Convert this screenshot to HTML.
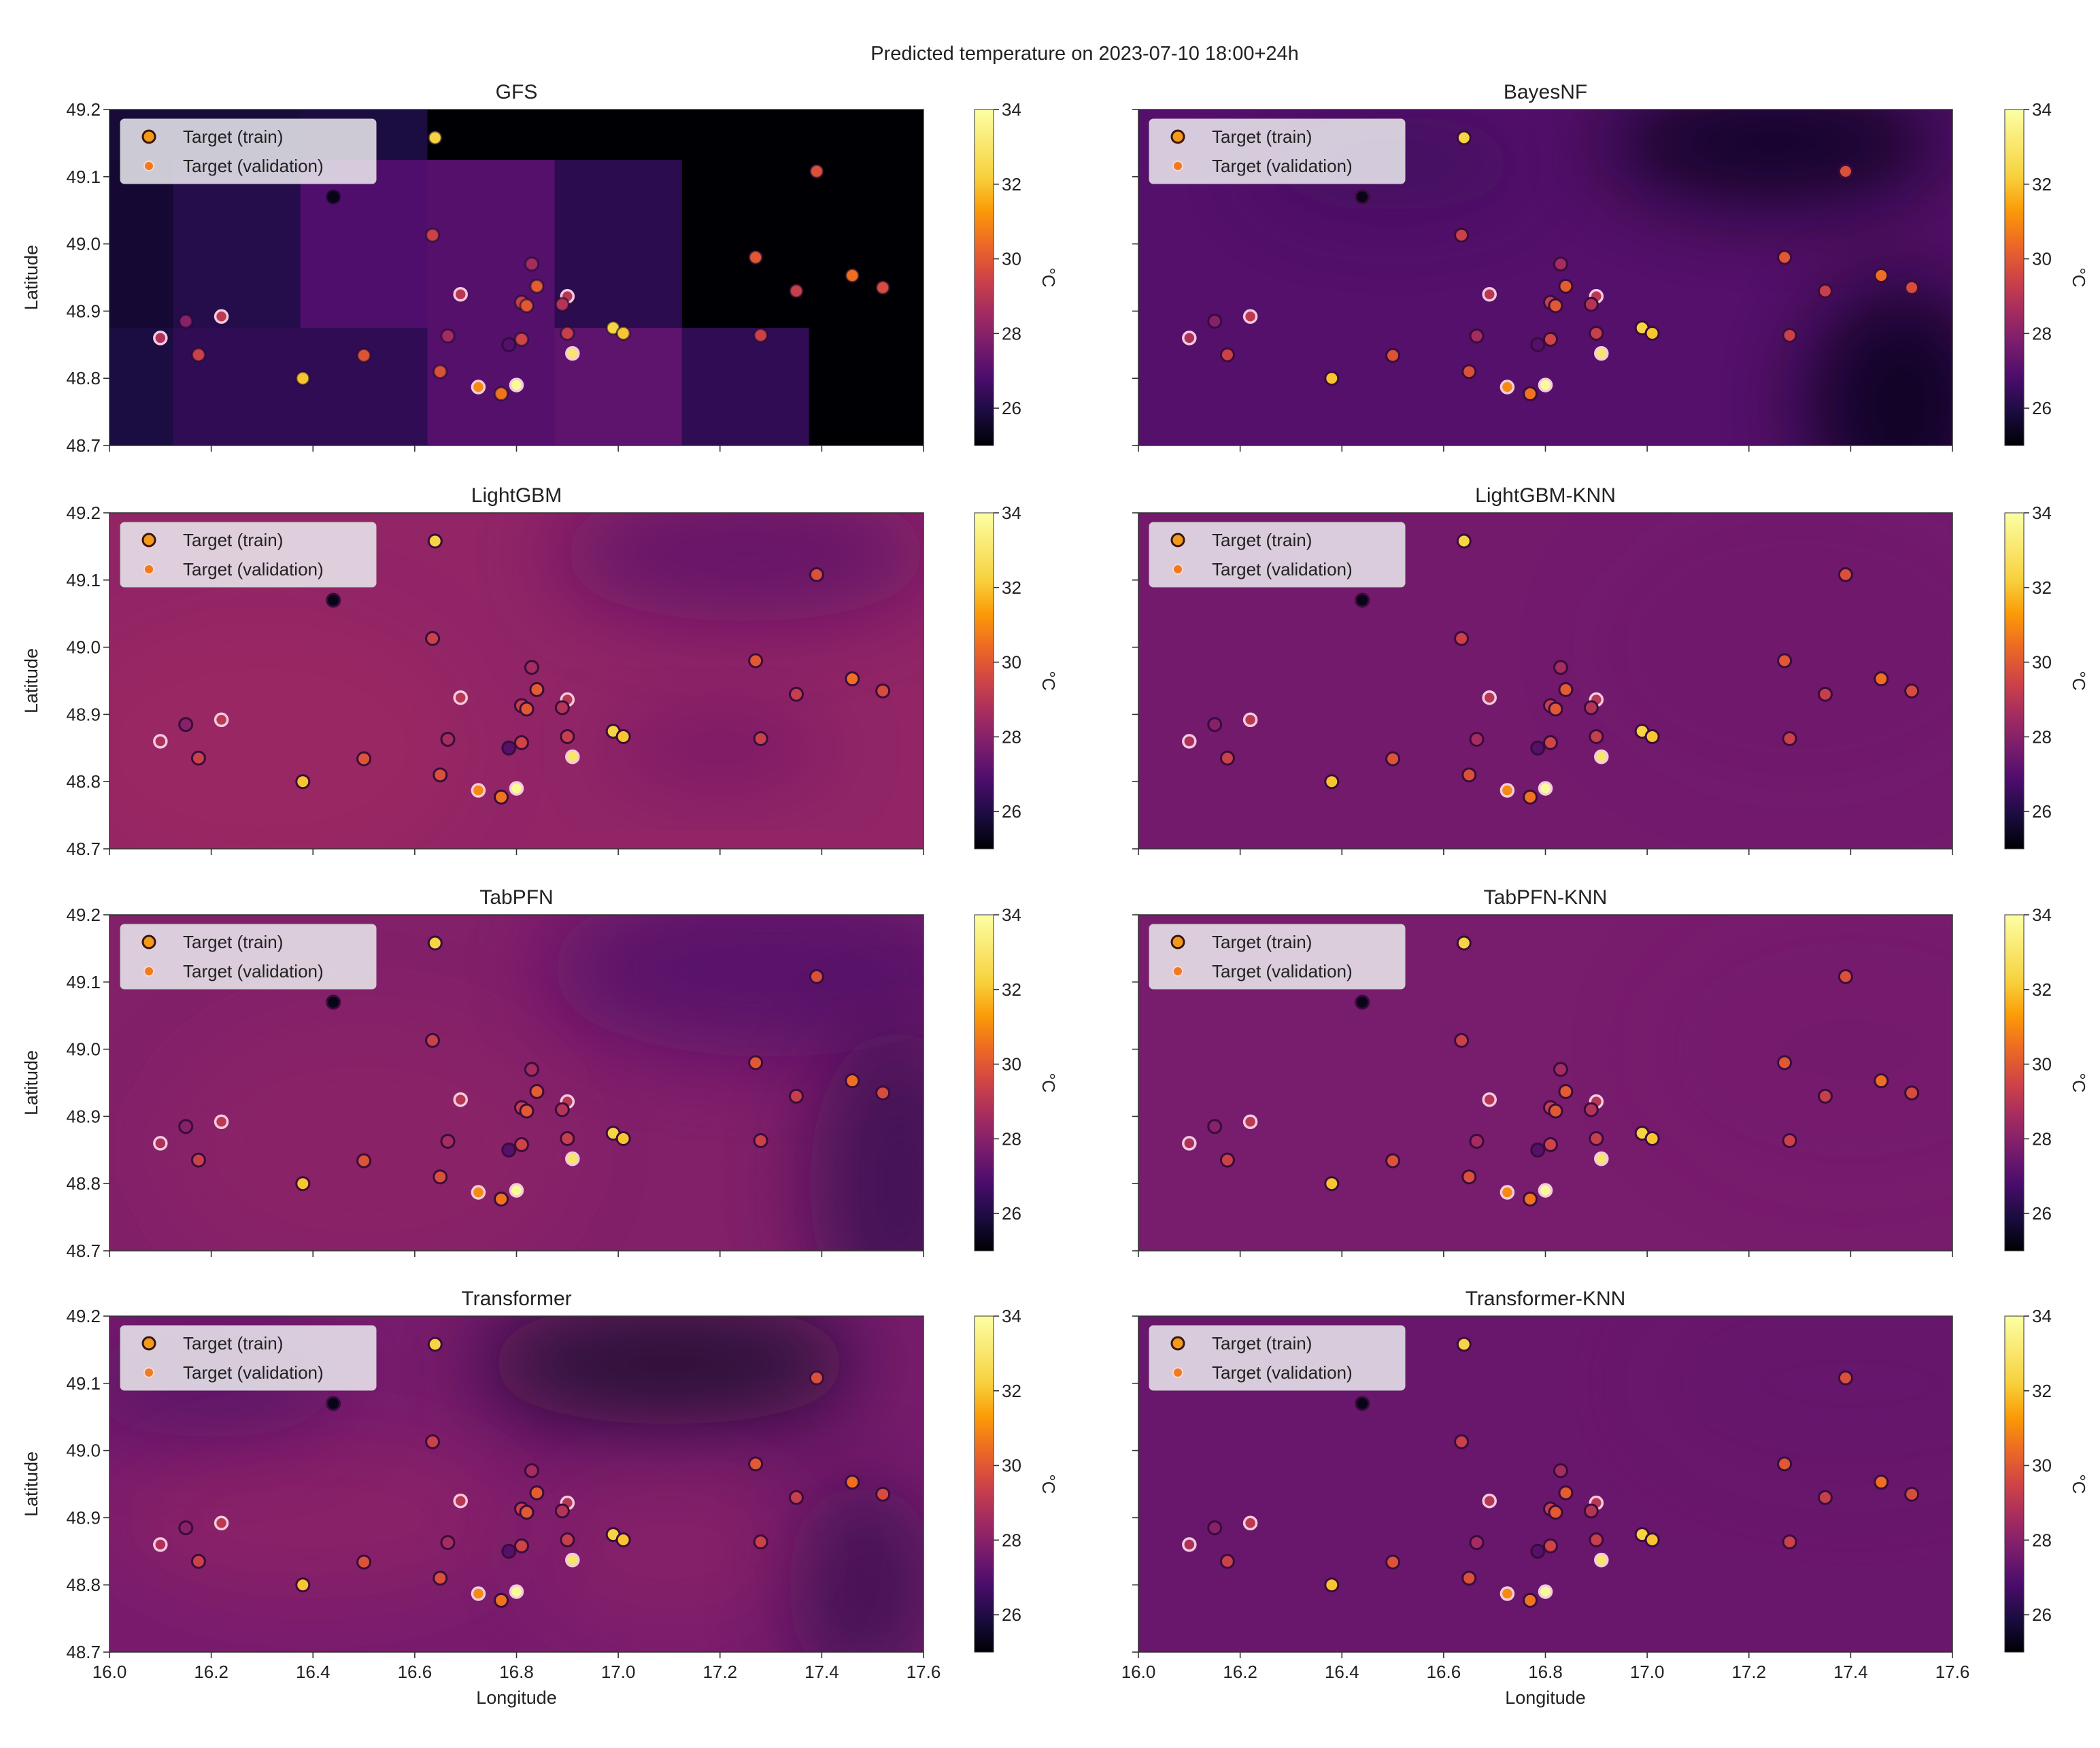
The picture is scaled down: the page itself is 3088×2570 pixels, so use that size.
<!DOCTYPE html>
<html><head><meta charset="utf-8"><style>
html,body{margin:0;padding:0;background:#fff}
svg{display:block;font-family:"Liberation Sans","DejaVu Sans",sans-serif}
</style></head><body>
<svg id="fig" width="3088" height="2570" viewBox="0 0 3088 2570" xmlns="http://www.w3.org/2000/svg">
<defs>
<linearGradient id="cbar" x1="0" y1="1" x2="0" y2="0">
<stop offset="0" stop-color="#000004"/><stop offset="0.1" stop-color="#1b0c41"/><stop offset="0.2" stop-color="#4a0c6b"/><stop offset="0.3" stop-color="#781c6d"/><stop offset="0.4" stop-color="#a52c60"/><stop offset="0.5" stop-color="#cf4446"/><stop offset="0.6" stop-color="#ed6925"/><stop offset="0.7" stop-color="#fb9b06"/><stop offset="0.8" stop-color="#f7d13d"/><stop offset="1" stop-color="#fcffa4"/>
</linearGradient>
<filter id="blur" x="-100%" y="-100%" width="300%" height="300%"><feGaussianBlur stdDeviation="60"/></filter>
</defs>
<text x="1595" y="88" font-size="29" text-anchor="middle" fill="#222">Predicted temperature on 2023-07-10 18:00+24h</text>
<g id="panels"></g>
</svg>
<script>
// ---- data ----
const panelTitles = ["GFS","BayesNF","LightGBM","LightGBM-KNN","TabPFN","TabPFN-KNN","Transformer","Transformer-KNN"];
const stationLon = [16.64,16.44,17.39,16.635,17.27,16.83,17.46,16.84,17.35,17.52,16.69,16.90,16.81,16.82,16.89,16.15,16.22,16.10,16.175,16.665,16.785,16.81,16.90,16.99,17.01,17.28,16.91,16.50,16.38,16.65,16.725,16.77,16.80];
const stationLat = [49.158,49.07,49.108,49.013,48.98,48.97,48.953,48.937,48.93,48.935,48.925,48.922,48.913,48.908,48.91,48.885,48.892,48.86,48.835,48.863,48.85,48.858,48.867,48.875,48.867,48.864,48.837,48.834,48.80,48.81,48.787,48.777,48.79];
const stationTemp = [32.3,25.3,29.8,29.4,30.0,28.6,30.5,30.1,29.3,29.7,29.0,29.0,29.3,30.0,28.9,28.0,29.1,28.8,29.4,28.6,27.0,29.5,29.3,32.3,32.0,29.4,33.0,29.9,32.0,29.8,31.0,30.6,33.8];
const stationValid = [0,0,0,0,0,0,0,0,0,0,1,1,0,0,0,0,1,1,0,0,0,0,0,0,0,0,1,0,0,0,1,0,1];
const xTicks = [16.0,16.2,16.4,16.6,16.8,17.0,17.2,17.4,17.6];
const yTicks = [48.7,48.8,48.9,49.0,49.1,49.2];
const cbTicks = [26,28,30,32,34];
const vmin = 25, vmax = 34;
// GFS grid cells: lon0, lon1, lat0, lat1, temperature
const gfsLon0 = [16.0,16.125,16.375,16.625,16.0,16.125,16.375,16.625,16.875,17.125,16.0,16.125,16.625,16.875,17.125,17.375];
const gfsLon1 = [16.125,16.375,16.625,17.6,16.125,16.375,16.625,16.875,17.125,17.6,16.125,16.625,16.875,17.125,17.375,17.6];
const gfsLat0 = [49.125,49.125,49.125,49.125,48.875,48.875,48.875,48.875,48.875,48.875,48.7,48.7,48.7,48.7,48.7,48.7];
const gfsLat1 = [49.2,49.2,49.2,49.2,49.125,49.125,49.125,49.125,49.125,49.125,48.875,48.875,48.875,48.875,48.875,48.875];
const gfsTemp = [25.8,25.8,25.9,25.0,25.7,26.1,26.9,27.0,26.2,25.0,25.9,26.3,27.0,27.2,26.3,25.0];

// ---- layout ----
const colX = [161,1674], rowY = [161,754,1345,1935], PW = 1197, PH = 494;
const cbX = [1433,2948], CBW = 28;
const NS = "http://www.w3.org/2000/svg";
const stops = [[0,0,0,4],[0.1,27,12,65],[0.2,74,12,107],[0.3,120,28,109],[0.4,165,44,96],[0.5,207,68,70],[0.6,237,105,37],[0.7,251,155,6],[0.8,247,209,61],[1,252,255,164]];
function cmap(t){let v=Math.max(0,Math.min(1,(t-vmin)/(vmax-vmin)));for(let i=1;i<stops.length;i++){if(v<=stops[i][0]){const a=stops[i-1],b=stops[i],f=(v-a[0])/(b[0]-a[0]);return `rgb(${[1,2,3].map(k=>Math.round(a[k]+(b[k]-a[k])*f)).join(',')})`;}}return "rgb(252,255,164)";}
function el(tag,attrs,parent){const e=document.createElementNS(NS,tag);for(const k in attrs)e.setAttribute(k,attrs[k]);parent.appendChild(e);return e;}
const root = document.getElementById('panels');

const bgBase = [null,27.0,28.2,27.6,27.9,27.7,27.7,27.4];
const bgBlobs = [
 [],
 [[17.25,49.15,250,90,25.2,0.8],[17.5,48.76,140,180,25.2,0.8],[16.5,49.12,200,70,26.2,0.4]],
 [[17.25,49.14,280,100,27.0,0.7],[16.3,48.85,300,200,28.6,0.4],[17.2,48.85,160,40,27.0,0.5]],
 [[17.3,49.0,300,200,27.4,0.3]],
 [[17.3,49.12,330,130,26.8,0.7],[17.55,48.8,130,230,26.2,0.7],[16.5,48.85,300,200,28.3,0.4]],
 [[17.4,49.0,300,200,27.5,0.3]],
 [[17.1,49.13,280,90,25.5,0.75],[17.48,48.8,110,150,26.0,0.6],[16.4,48.9,300,120,28.4,0.5],[16.2,49.1,200,80,26.6,0.5],[17.1,48.85,200,120,28.3,0.4]],
 [[17.4,49.1,300,150,27.2,0.3]]
];

panelTitles.forEach((title,pi)=>{
  const c = pi%2, r = Math.floor(pi/2);
  const x0 = colX[c], y0 = rowY[r];
  const sx = lon => x0 + (lon-16.0)/1.6*PW;
  const sy = lat => y0 + (49.2-lat)/0.5*PH;
  const g = el('g',{},root);
  
  
  const clipId='clip'+pi;
  const cp = el('clipPath',{id:clipId},g); el('rect',{x:x0,y:y0,width:PW,height:PH},cp);
  const bg = el('g',{'clip-path':`url(#${clipId})`},g);
  
  
  if(pi===0){
    gfsTemp.forEach((t,i)=>{
      const rc = el('rect',{x:sx(gfsLon0[i]),y:sy(gfsLat1[i]),width:sx(gfsLon1[i])-sx(gfsLon0[i])+0.5,height:sy(gfsLat0[i])-sy(gfsLat1[i])+0.5,fill:cmap(t)},bg);
      
      
    });
  } else {
    el('rect',{x:x0,y:y0,width:PW,height:PH,fill:cmap(bgBase[pi])},bg);
    bgBlobs[pi].forEach(b=>{
      el('ellipse',{cx:sx(b[0]),cy:sy(b[1]),rx:b[2],ry:b[3],fill:cmap(b[4]),opacity:b[5],filter:'url(#blur)'},bg);
    });
  }
  el('rect',{x:x0,y:y0,width:PW,height:PH,fill:'none',stroke:'#333','stroke-width':1.5},g);
  const tt = el('text',{x:x0+PW/2,y:y0-16,'font-size':30,'text-anchor':'middle',fill:'#222'},g); tt.textContent=title;
  
  
  xTicks.forEach(v=>{
    el('line',{x1:sx(v),x2:sx(v),y1:y0+PH,y2:y0+PH+9,stroke:'#333','stroke-width':1.6},g);
    if(r===3){const t=el('text',{x:sx(v),y:y0+PH+38,'font-size':26,'text-anchor':'middle',fill:'#222'},g);t.textContent=v.toFixed(1);
      
      }
  });
  yTicks.forEach(v=>{
    el('line',{x1:x0-9,x2:x0,y1:sy(v),y2:sy(v),stroke:'#333','stroke-width':1.6},g);
    if(c===0){const t=el('text',{x:x0-13,y:sy(v)+9,'font-size':26,'text-anchor':'end',fill:'#222'},g);t.textContent=v.toFixed(1);
      
      }
  });
  if(c===0){const t=el('text',{x:0,y:0,'font-size':27,'text-anchor':'middle',fill:'#222',transform:`translate(55,${y0+PH/2}) rotate(-90)`},g);t.textContent='Latitude';
    
    }
  if(r===3){const t=el('text',{x:x0+PW/2,y:y0+PH+76,'font-size':27,'text-anchor':'middle',fill:'#222'},g);t.textContent='Longitude';
    
    }
  const pts = el('g',{'clip-path':`url(#${clipId})`},g);
  stationLon.forEach((lon,i)=>{
    const v = stationValid[i];
    const cc = el('circle',{cx:sx(lon),cy:sy(stationLat[i]),r:v?9:9.5,fill:cmap(stationTemp[i]),stroke:v?'#f3cbe0':(pi===0?'#1a0a30':'#3a0c3c'),'stroke-width':v?3.5:3,'stroke-opacity':(pi===0&&!v)?0.6:1},pts);
    
    
  });
  const lg = el('g',{},g);
  
  
  el('rect',{x:x0+16,y:y0+14,width:376,height:95,rx:6,fill:'#ececf0','fill-opacity':0.85,stroke:'#ccc','stroke-width':1},lg);
  el('circle',{cx:x0+58,cy:y0+40,r:9,fill:'#f29a1a',stroke:'#3a1410','stroke-width':3},lg);
  el('circle',{cx:x0+58,cy:y0+83,r:7,fill:'#f07a22',stroke:'#f8d8d0','stroke-width':2},lg);
  const l1=el('text',{x:x0+108,y:y0+49,'font-size':26,fill:'#222'},lg);l1.textContent='Target (train)';
  
  
  const l2=el('text',{x:x0+108,y:y0+92,'font-size':26,fill:'#222'},lg);l2.textContent='Target (validation)';
  
  
  const cx = cbX[c];
  const cb = el('g',{},g);
  
  
  el('rect',{x:cx,y:y0,width:CBW,height:PH,fill:'url(#cbar)',stroke:'#333','stroke-width':1},cb);
  const cy = t => y0 + PH - (t-vmin)/(vmax-vmin)*PH;
  cbTicks.forEach(t=>{
    el('line',{x1:cx+CBW,x2:cx+CBW+8,y1:cy(t),y2:cy(t),stroke:'#333','stroke-width':1.6},cb);
    const tx=el('text',{x:cx+CBW+12,y:cy(t)+9,'font-size':26,fill:'#222'},cb);tx.textContent=t;
    
    
  });
  const cl=el('text',{x:0,y:0,'font-size':26,'text-anchor':'middle',fill:'#222',transform:`translate(${cx+100},${y0+PH/2}) rotate(90)`},cb);cl.textContent='°C';
  
  
});
</script>
</body></html>
